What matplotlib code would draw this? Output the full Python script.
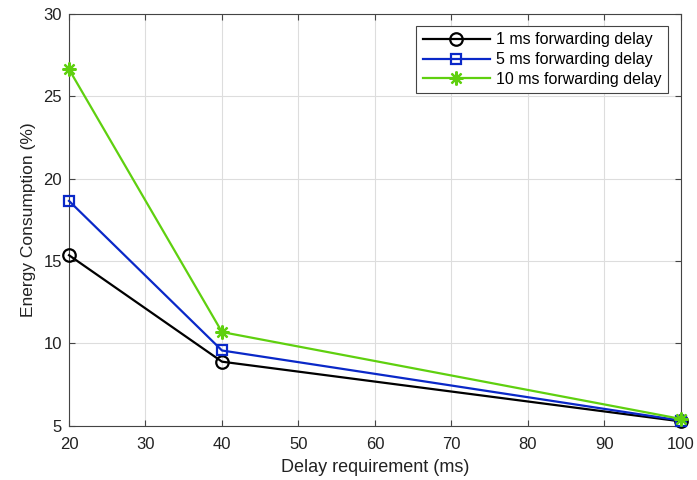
import matplotlib.pyplot as plt

delay_req = [20, 40, 100]
fwd_1ms = [15.35, 8.88, 5.25]
fwd_5ms = [18.65, 9.56, 5.3]
fwd_10ms = [26.65, 10.68, 5.4]
labels = ['1 ms forwarding delay', '5 ms forwarding delay', '10 ms forwarding delay']

plt.rcParams['font.family'] = ['Liberation Sans', 'DejaVu Sans']

fig = plt.figure(figsize=(6.97, 4.8), dpi=100)
ax = fig.add_axes([0.099, 0.1135, 0.878, 0.857])

ax.plot(delay_req, fwd_1ms, color='black', lw=1.6, marker='o', ms=9,
        mfc='none', mew=1.6, label=labels[0], clip_on=False, zorder=3)
ax.plot(delay_req, fwd_5ms, color='#0A28C8', lw=1.6, marker='s', ms=6.5,
        mfc='none', mew=1.6, label=labels[1], clip_on=False, zorder=4)
ax.plot(delay_req, fwd_10ms, color='#5FD00F', lw=1.6, marker=(8, 2, 0), ms=10,
        mew=1.6, label=labels[2], clip_on=False, zorder=5)

ax.set_xlim(20, 100)
ax.set_ylim(5, 30)
ax.set_xticks(range(20, 101, 10))
ax.set_yticks(range(5, 31, 5))
ax.grid(True, color='#DDDDDD', lw=0.8)
ax.set_axisbelow(True)
ax.tick_params(direction='in', labelsize=12, length=4, color='#444444',
               labelcolor='#222222', top=True, right=True)
ax.tick_params(axis='x', pad=8)
ax.tick_params(axis='y', pad=5)
for s in ax.spines.values():
    s.set_color('#444444')
    s.set_linewidth(0.8)

ax.set_xlabel('Delay requirement (ms)', fontsize=13, labelpad=5, color='#222222')
ax.set_ylabel('Energy Consumption (%)', fontsize=12.5, labelpad=5, color='#222222')

leg = ax.legend(loc='upper right', bbox_to_anchor=(0.979, 0.971), fontsize=11.5,
                fancybox=False, framealpha=1, edgecolor='#444444',
                handlelength=4.2, borderpad=0.4, labelspacing=0.3, handletextpad=0.4,
                borderaxespad=0)
leg.get_frame().set_linewidth(0.8)

fig.savefig('out.png', dpi=100)
